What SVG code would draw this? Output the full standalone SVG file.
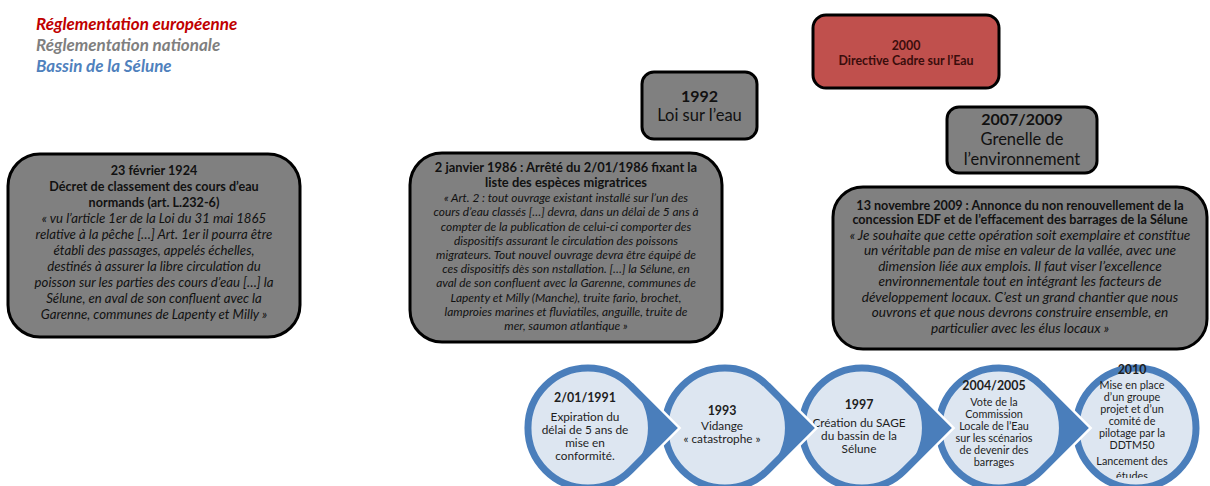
<svg xmlns="http://www.w3.org/2000/svg" width="1210" height="486" viewBox="0 0 1210 486">
<style>
text{font-family:Lato,"Liberation Sans",sans-serif;fill:#111;text-anchor:middle}
.leg{font-size:17px;font-weight:bold;font-style:italic;text-anchor:start}
.box{fill:#808080;stroke:#000;stroke-width:3}
.red{fill:#c0504d;stroke:#000;stroke-width:3}
.ba{font-size:12.6px;font-weight:bold}
.ia{font-size:13.2px;font-style:italic}
.bb{font-size:12.9px;font-weight:bold}
.ib{font-size:11.9px;font-style:italic}
.bf{font-size:12.6px;font-weight:bold}
.if{font-size:13.6px;font-style:italic}
.big{font-size:16.5px}
.bigb{font-size:16px;font-weight:bold}
.dr{font-size:12.4px;font-weight:bold;fill:#3a0d0c}
.ring{fill:#dde6f1;stroke:#4a7ebb;stroke-width:7;stroke-linejoin:miter}
.halo{fill:#fff;stroke:#fff;stroke-width:12}
.tri{fill:#4a7ebb}
.cy{font-size:12.4px;font-weight:bold;fill:#1e1e1e}
.ct{font-size:11.8px;fill:#1e1e1e}
.cs{font-size:10.8px;fill:#1e1e1e}
</style>
<defs>
<clipPath id="cut"><rect x="0" y="0" width="1210" height="478"/></clipPath>
</defs>

<g id="legend">
<text class="leg" x="36" y="30" style="fill:#c00000">Réglementation européenne</text>
<text class="leg" x="36" y="51" style="fill:#7f7f7f">Réglementation nationale</text>
<text class="leg" x="36" y="72" style="fill:#4f81bd">Bassin de la Sélune</text>
</g>

<g id="n1924">
<rect class="box" x="8" y="154" width="292" height="183" rx="32"/>
<text class="ba" x="154" y="175">23 février 1924</text>
<text class="ba" x="154" y="191">Décret de classement des cours d’eau</text>
<text class="ba" x="154" y="207">normands (art. L.232-6)</text>
<text class="ia" x="154" y="223">« vu l’article 1er de la Loi du 31 mai 1865</text>
<text class="ia" x="154" y="239">relative à la pêche […] Art. 1er il pourra être</text>
<text class="ia" x="154" y="255">établi des passages, appelés échelles,</text>
<text class="ia" x="154" y="271">destinés à assurer la libre circulation du</text>
<text class="ia" x="154" y="287">poisson sur les parties des cours d’eau […] la</text>
<text class="ia" x="154" y="303">Sélune, en aval de son confluent avec la</text>
<text class="ia" x="154" y="319">Garenne, communes de Lapenty et Milly »</text>
</g>

<g id="n1986">
<rect class="box" x="410" y="153" width="312" height="189" rx="32"/>
<text class="bb" x="566" y="172">2 janvier 1986 : Arrêté du 2/01/1986 fixant la</text>
<text class="bb" x="566" y="187">liste des espèces migratrices</text>
<text class="ib" x="566" y="202">« Art. 2 : tout ouvrage existant installé sur l’un des</text>
<text class="ib" x="566" y="216">cours d’eau classés […] devra, dans un délai de 5 ans à</text>
<text class="ib" x="566" y="230.5">compter de la publication de celui-ci comporter des</text>
<text class="ib" x="566" y="244.5">dispositifs assurant le circulation des poissons</text>
<text class="ib" x="566" y="259">migrateurs. Tout nouvel ouvrage devra être équipé de</text>
<text class="ib" x="566" y="273">ces dispositifs dès son  nstallation. […] la Sélune, en</text>
<text class="ib" x="566" y="287">aval de son confluent avec la Garenne, communes de</text>
<text class="ib" x="566" y="301.5">Lapenty et Milly (Manche), truite fario, brochet,</text>
<text class="ib" x="566" y="315.5">lamproies marines et fluviatiles, anguille, truite de</text>
<text class="ib" x="566" y="329.5">mer, saumon atlantique »</text>
</g>

<g id="n1992">
<rect class="box" x="642" y="72" width="115" height="67" rx="12"/>
<text class="bigb" x="699.5" y="102">1992</text>
<text class="big" x="699.5" y="121">Loi sur l’eau</text>
</g>

<g id="n2000">
<rect class="red" x="813" y="15" width="186" height="73" rx="13"/>
<text class="dr" x="906" y="50">2000</text>
<text class="dr" x="906" y="65">Directive Cadre sur l’Eau</text>
</g>

<g id="n2007">
<rect class="box" x="947" y="107" width="150" height="66" rx="12"/>
<text class="bigb" x="1022" y="125">2007/2009</text>
<text class="big" x="1022" y="145">Grenelle de</text>
<text class="big" x="1022" y="165">l’environnement</text>
</g>

<g id="n2009">
<rect class="box" x="833" y="187" width="374" height="162" rx="30"/>
<text class="bf" x="1020" y="209.5">13 novembre 2009 : Annonce du non renouvellement de la</text>
<text class="bf" x="1020" y="224">concession EDF et de l’effacement des barrages de la Sélune</text>
<text class="if" x="1020" y="239.5">« Je souhaite que cette opération soit exemplaire et constitue</text>
<text class="if" x="1020" y="255">un véritable  pan de mise en valeur de la vallée, avec une</text>
<text class="if" x="1020" y="270.5">dimension liée aux emplois. Il faut viser l’excellence</text>
<text class="if" x="1020" y="286">environnementale tout en intégrant les facteurs de</text>
<text class="if" x="1020" y="301.5">développement locaux. C’est un grand chantier que nous</text>
<text class="if" x="1020" y="317">ouvrons  et que nous devrons construire ensemble, en</text>
<text class="if" x="1020" y="332.5">particulier avec les élus locaux »</text>
</g>

<g id="c2010">
<circle cx="1136" cy="428" r="60" class="halo"/>
<circle cx="1136" cy="428" r="60" class="ring"/>
<text class="cy" x="1132" y="374">2010</text>
<text class="cs" x="1132" y="389">Mise en place</text>
<text class="cs" x="1132" y="401">d’un groupe</text>
<text class="cs" x="1132" y="413">projet et d’un</text>
<text class="cs" x="1132" y="425">comité de</text>
<text class="cs" x="1132" y="437">pilotage par la</text>
<text class="cs" x="1132" y="449">DDTM50</text>
<text class="cs" x="1132" y="465">Lancement des</text>
<text class="cs" x="1132" y="480" clip-path="url(#cut)">études</text>
</g>

<g id="c2004">
<path class="halo" d="M1041.4,385.6 L1083.9,428 L1041.4,470.4 A60,60 0 1 1 1041.4,385.6 Z"/>
<path class="ring" d="M1041.4,385.6 L1083.9,428 L1041.4,470.4 A60,60 0 1 1 1041.4,385.6 Z"/>
<path class="tri" d="M1041.4,385.6 L1083.9,428 L1041.4,470.4 A60,60 0 0 0 1041.4,385.6 Z"/>
<text class="cy" x="994" y="390">2004/2005</text>
<text class="cs" x="994" y="406">Vote de la</text>
<text class="cs" x="994" y="418">Commission</text>
<text class="cs" x="994" y="430">Locale de l’Eau</text>
<text class="cs" x="994" y="442">sur les scénarios</text>
<text class="cs" x="994" y="454">de devenir des</text>
<text class="cs" x="994" y="466">barrages</text>
</g>

<g id="c1997">
<path class="halo" d="M904.4,385.6 L946.9,428 L904.4,470.4 A60,60 0 1 1 904.4,385.6 Z"/>
<path class="ring" d="M904.4,385.6 L946.9,428 L904.4,470.4 A60,60 0 1 1 904.4,385.6 Z"/>
<path class="tri" d="M904.4,385.6 L946.9,428 L904.4,470.4 A60,60 0 0 0 904.4,385.6 Z"/>
<text class="cy" x="859" y="409">1997</text>
<text class="ct" x="859" y="427">Création du SAGE</text>
<text class="ct" x="859" y="440">du bassin de la</text>
<text class="ct" x="859" y="453">Sélune</text>
</g>

<g id="c1993">
<path class="halo" d="M767.4,385.6 L809.9,428 L767.4,470.4 A60,60 0 1 1 767.4,385.6 Z"/>
<path class="ring" d="M767.4,385.6 L809.9,428 L767.4,470.4 A60,60 0 1 1 767.4,385.6 Z"/>
<path class="tri" d="M767.4,385.6 L809.9,428 L767.4,470.4 A60,60 0 0 0 767.4,385.6 Z"/>
<text class="cy" x="722" y="415">1993</text>
<text class="ct" x="722" y="430">Vidange</text>
<text class="ct" x="722" y="443">« catastrophe »</text>
</g>

<g id="c1991">
<path class="halo" d="M630.4,385.6 L672.9,428 L630.4,470.4 A60,60 0 1 1 630.4,385.6 Z"/>
<path class="ring" d="M630.4,385.6 L672.9,428 L630.4,470.4 A60,60 0 1 1 630.4,385.6 Z"/>
<path class="tri" d="M630.4,385.6 L672.9,428 L630.4,470.4 A60,60 0 0 0 630.4,385.6 Z"/>
<text class="cy" x="585" y="402">2/01/1991</text>
<text class="ct" x="585" y="421">Expiration du</text>
<text class="ct" x="585" y="434">délai de 5 ans de</text>
<text class="ct" x="585" y="447">mise en</text>
<text class="ct" x="585" y="460">conformité.</text>
</g>
</svg>
